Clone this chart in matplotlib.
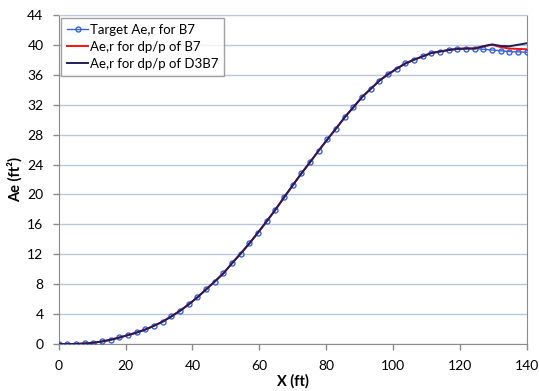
import numpy as np
import matplotlib
matplotlib.use("Agg")
import matplotlib.pyplot as plt

plt.rcParams['font.family'] = ['Lato', 'DejaVu Sans']

# station positions (ft), 55 evenly spaced points from 0 to 140
x_ft = np.linspace(0, 140, 55)

target_b7 = [0.0, 0.0, 0.02, 0.08, 0.18, 0.35, 0.58, 0.88, 1.2, 1.55,
             1.95, 2.45, 3.0, 3.7, 4.45, 5.3, 6.25, 7.3, 8.35, 9.45,
             10.8, 12.1, 13.45, 14.9, 16.4, 17.95, 19.6, 21.2, 22.8, 24.3,
             25.85, 27.35, 28.8, 30.3, 31.65, 33.0, 34.1, 35.2, 36.05, 36.8,
             37.5, 38.0, 38.45, 38.9, 39.1, 39.3, 39.45, 39.5, 39.5, 39.4,
             39.3, 39.2, 39.1, 39.05, 39.0]

# the two dp/p results follow the target until the last few stations
dpp_b7 = target_b7[:49] + [39.8, 40.0, 39.7, 39.5, 39.45, 39.4]
dpp_d3b7 = target_b7[:49] + [39.8, 40.05, 39.85, 39.8, 40.0, 40.2]

fig = plt.figure(figsize=(5.39, 3.91), dpi=100)
ax = fig.add_axes([0.109, 0.120, 0.868, 0.842])

ax.plot(x_ft, target_b7, color='#3A64D0', lw=1.0, marker='o', ms=3.6,
        mfc='none', mec='#3A64D0', mew=1.0, label='Target Ae,r for B7', zorder=3)
ax.plot(x_ft, dpp_b7, color='#FF1010', lw=1.4, label='Ae,r for dp/p of B7', zorder=4)
ax.plot(x_ft, dpp_d3b7, color='#1C1F5C', lw=1.4, label='Ae,r for dp/p of D3B7', zorder=5)

ax.set_xlim(0, 140)
ax.set_ylim(0, 44)
ax.set_xticks(range(0, 141, 20))
ax.set_yticks(range(0, 45, 4))
ax.yaxis.grid(True, color='#B8C7DA', lw=1.0)
ax.set_axisbelow(True)

for side in ['left', 'bottom', 'right']:
    ax.spines[side].set_color('#8A8A8A')
ax.spines['top'].set_color('#B8C7DA')
ax.tick_params(axis='both', direction='out', length=4, width=1,
               color='#8A8A8A', labelsize=10)
ax.tick_params(axis='x', pad=7.5)
ax.tick_params(axis='y', pad=7)

ax.set_xlabel('X (ft)', fontsize=10.5, fontweight='bold', labelpad=1.5)
ax.set_ylabel('Ae (ft²)', fontsize=10.5, fontweight='bold', labelpad=3)

leg = ax.legend(loc='upper left', bbox_to_anchor=(0.005, 0.99), fontsize=9.5,
                frameon=True, fancybox=False, edgecolor='#8A8A8A',
                handlelength=1.6, handletextpad=0.15, labelspacing=0.36,
                borderpad=0.45, borderaxespad=0)
leg.get_frame().set_linewidth(1.0)

fig.savefig('out.png', dpi=100)
